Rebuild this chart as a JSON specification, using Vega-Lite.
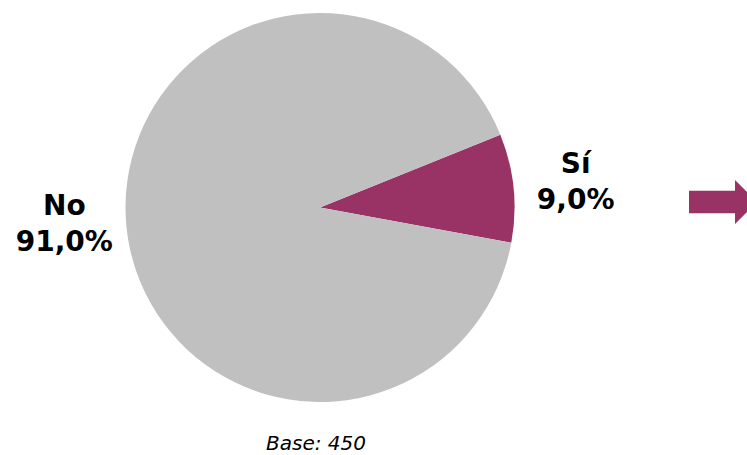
{
  "$schema": "https://vega.github.io/schema/vega-lite/v6.json",
  "width": 640,
  "height": 415,
  "padding": 0,
  "background": "white",
  "title": {
    "text": "Base: 450",
    "orient": "bottom",
    "anchor": "middle",
    "font": "DejaVu Sans",
    "fontSize": 20,
    "fontStyle": "italic",
    "fontWeight": "normal",
    "color": "#000000",
    "offset": 19,
    "dx": -4
  },
  "config": {"view": {"stroke": null}},
  "layer": [
    {
      "data": {"values": [
        {"respuesta": "Sí", "porcentaje": 9.0, "orden": 1},
        {"respuesta": "No", "porcentaje": 91.0, "orden": 2}
      ]},
      "transform": [{"calculate": "[datum.respuesta, replace(format(datum.porcentaje, '.1f'), '.', ',') + '%']", "as": "etiqueta"}],
      "layer": [
        {
          "mark": {"type": "arc", "outerRadius": 194.5, "stroke": null},
          "encoding": {
            "theta": {"field": "porcentaje", "type": "quantitative", "stack": true, "scale": {"range": [1.187, 7.470]}},
            "order": {"field": "orden", "type": "quantitative"},
            "color": {"field": "respuesta", "type": "nominal", "scale": {"domain": ["Sí", "No"], "range": ["#993366", "#C0C0C0"]}, "legend": null}
          }
        },
        {
          "mark": {"type": "text", "radius": 257, "dy": -17, "font": "DejaVu Sans", "fontWeight": "bold", "fontSize": 28, "lineHeight": 36, "align": "center", "baseline": "middle", "color": "#000000"},
          "encoding": {
            "theta": {"field": "porcentaje", "type": "quantitative", "stack": true, "scale": {"range": [1.187, 7.470]}},
            "order": {"field": "orden", "type": "quantitative"},
            "text": {"field": "etiqueta"},
            "opacity": {"condition": {"test": "datum.respuesta === 'Sí'", "value": 1}, "value": 0}
          }
        },
        {
          "mark": {"type": "text", "radius": 257, "dy": -26, "font": "DejaVu Sans", "fontWeight": "bold", "fontSize": 28, "lineHeight": 36, "align": "center", "baseline": "middle", "color": "#000000"},
          "encoding": {
            "theta": {"field": "porcentaje", "type": "quantitative", "stack": true, "scale": {"range": [1.187, 7.470]}},
            "order": {"field": "orden", "type": "quantitative"},
            "text": {"field": "etiqueta"},
            "opacity": {"condition": {"test": "datum.respuesta === 'No'", "value": 1}, "value": 0}
          }
        }
      ]
    },
    {
      "data": {"values": [{"px": 2.072, "py": 0.028}]},
      "mark": {"type": "point", "shape": "M-1,-0.33 L0.353,-0.33 L0.353,-0.647 L1,0 L0.353,0.647 L0.353,0.33 L-1,0.33 Z", "size": 4624, "filled": true, "color": "#993366", "opacity": 1, "strokeWidth": 0},
      "encoding": {
        "x": {"field": "px", "type": "quantitative", "scale": {"domain": [-1.6452, 1.6452], "zero": false, "nice": false}, "axis": null},
        "y": {"field": "py", "type": "quantitative", "scale": {"domain": [-1.0668, 1.0668], "zero": false, "nice": false}, "axis": null}
      }
    }
  ]
}
